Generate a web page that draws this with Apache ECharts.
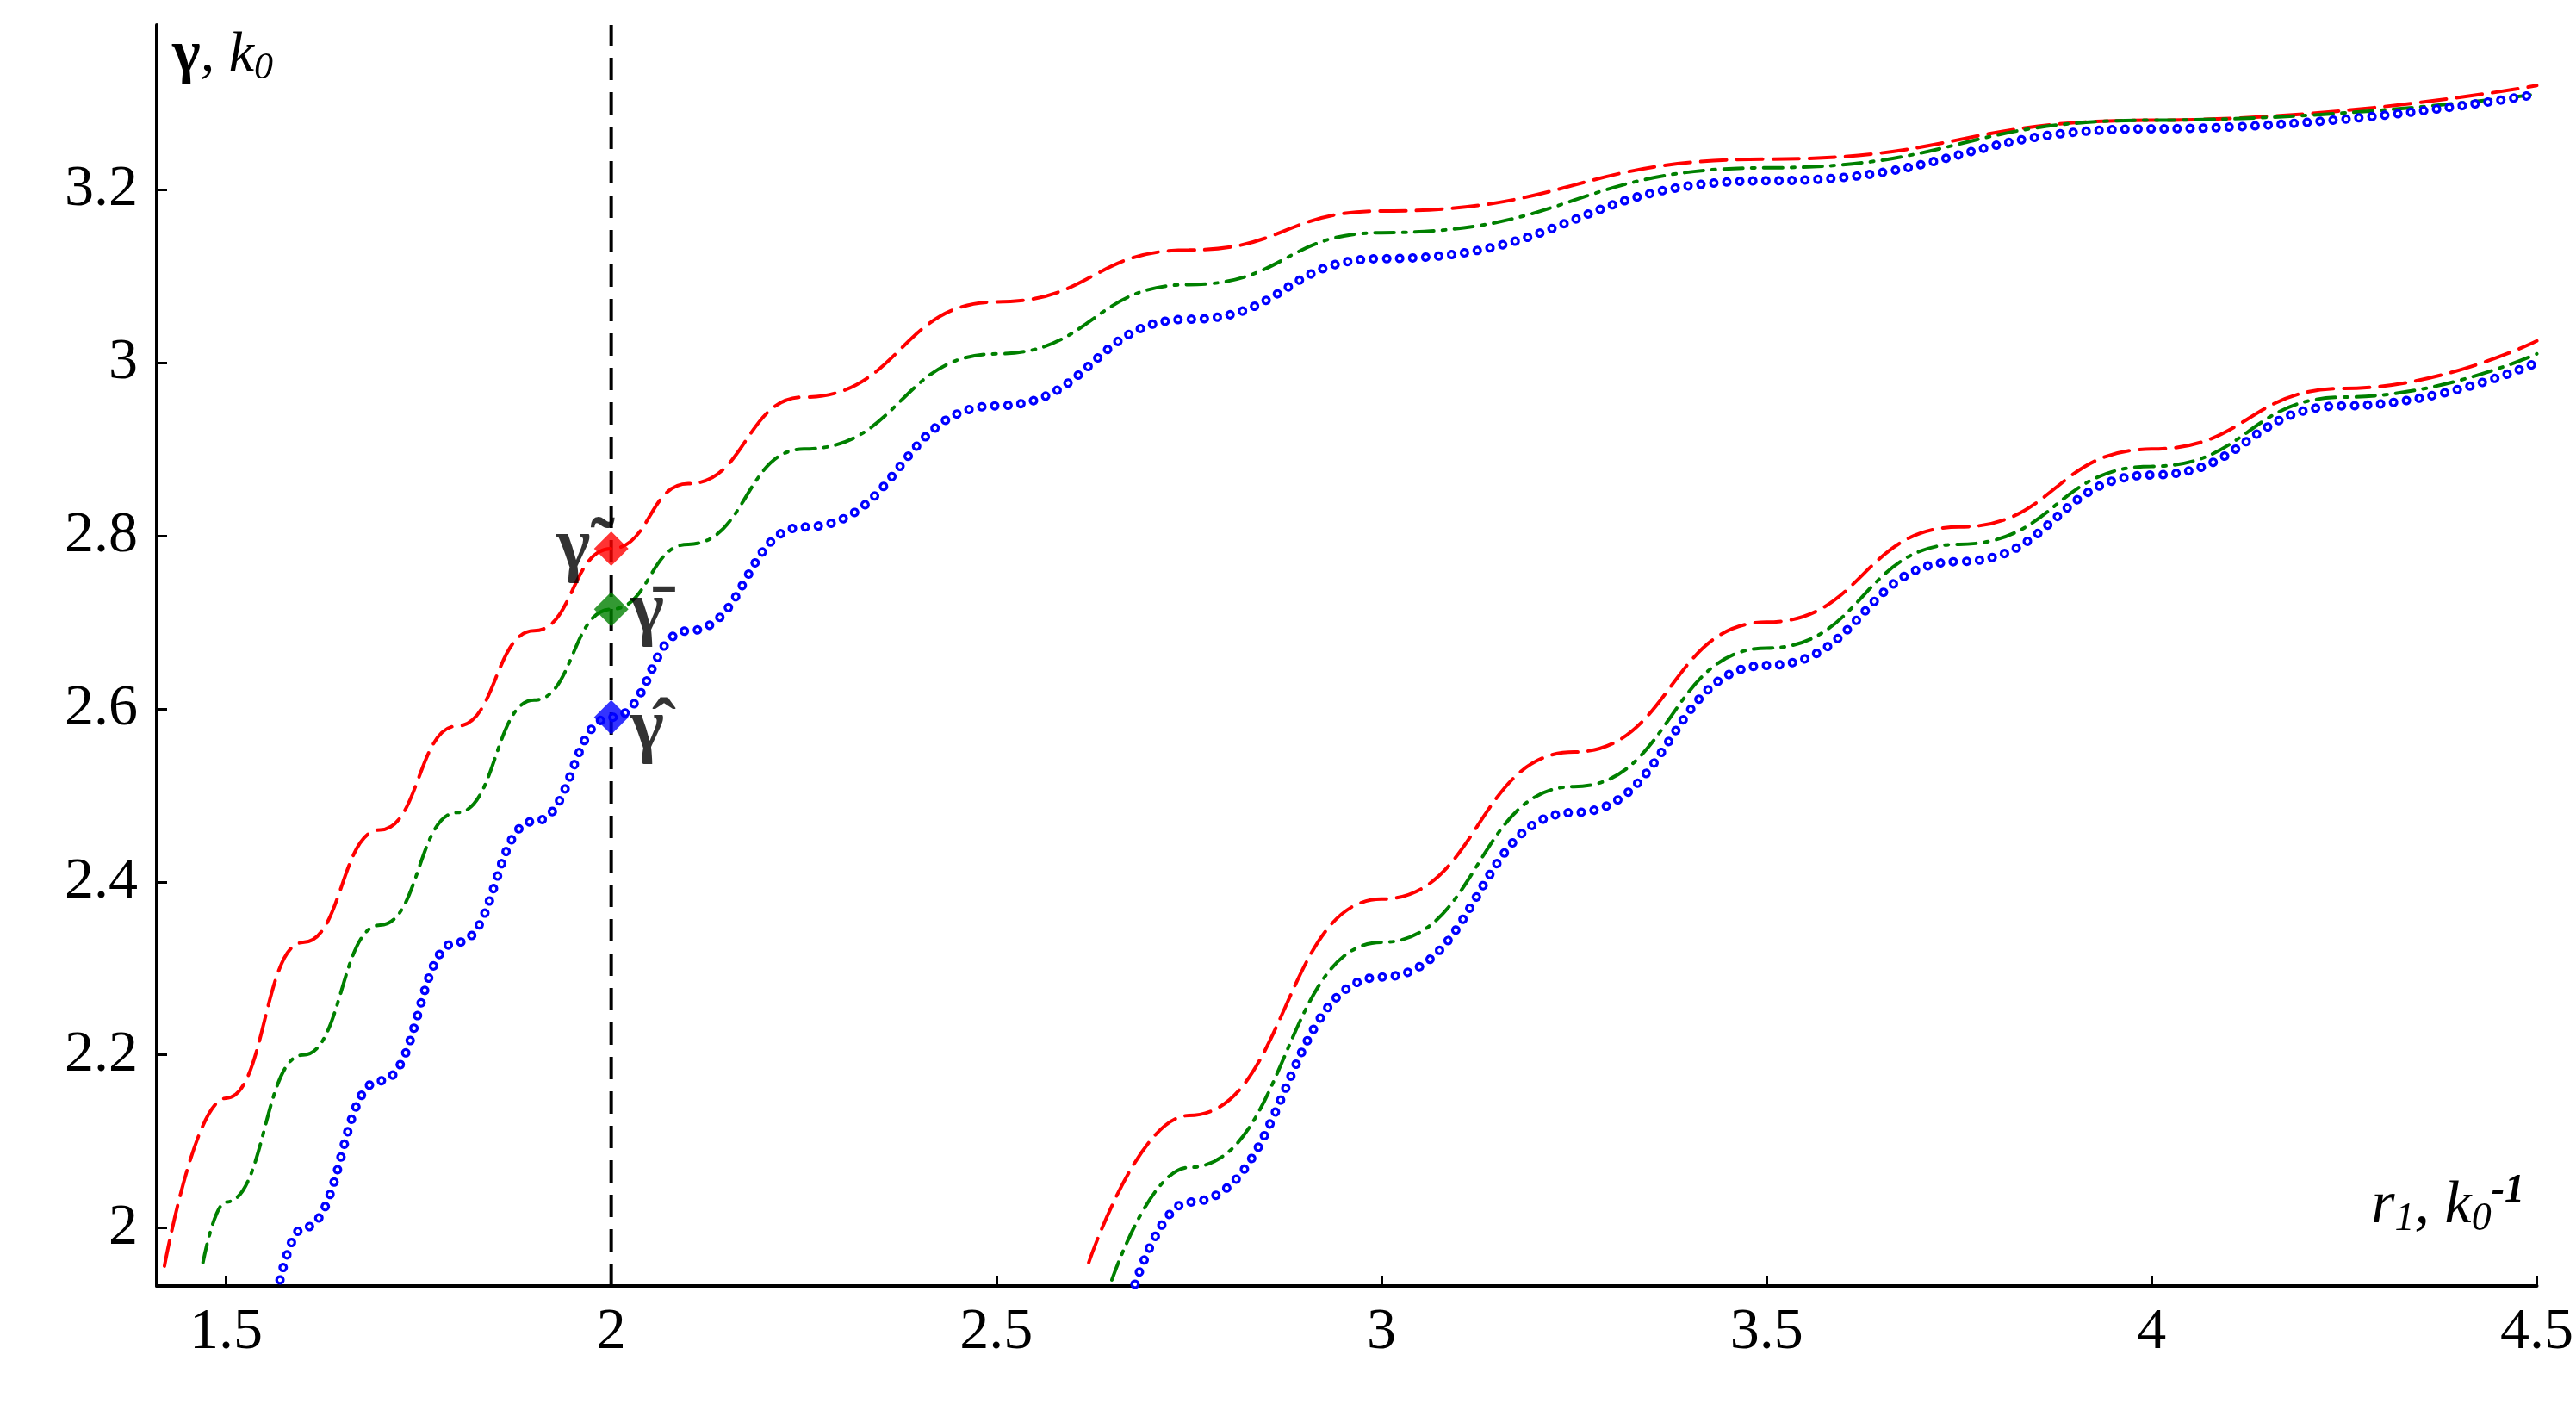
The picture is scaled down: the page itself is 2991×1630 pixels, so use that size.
<!DOCTYPE html>
<html><head><meta charset="utf-8">
<script src="https://cdn.jsdelivr.net/npm/echarts@6/dist/echarts.min.js"></script>
<style>html,body{margin:0;background:#fff}#c{width:2991px;height:1630px}</style>
</head><body><div id="c"></div>
<script>
const xTicks=[1.5,2,2.5,3,3.5,4,4.5];
const yTicks=[2,2.2,2.4,2.6,2.8,3,3.2];
const redUpper=[[1.42,1.956],[1.5,2.15],[1.6,2.33],[1.7,2.46],[1.8,2.58],[1.9,2.69],[2.0,2.785],[2.1,2.86],[2.25,2.96],[2.5,3.07],[2.75,3.13],[3.0,3.175],[3.5,3.235],[4.0,3.28],[4.5,3.32]];
const greenUpper=[[1.47,1.96],[1.5,2.03],[1.6,2.2],[1.7,2.35],[1.8,2.48],[1.9,2.61],[2.0,2.715],[2.1,2.79],[2.25,2.90],[2.5,3.01],[2.75,3.09],[3.0,3.15],[3.5,3.225],[4.0,3.28],[4.5,3.31]];
const blueUpper=[[1.57,1.94],[1.6,2.0],[1.7,2.17],[1.8,2.33],[1.9,2.47],[2.0,2.59],[2.1,2.69],[2.25,2.81],[2.5,2.95],[2.75,3.05],[3.0,3.12],[3.5,3.21],[4.0,3.27],[4.5,3.31]];
const redLower=[[2.62,1.96],[2.75,2.13],[3.0,2.38],[3.25,2.55],[3.5,2.70],[3.75,2.81],[4.0,2.90],[4.25,2.97],[4.5,3.025]];
const greenLower=[[2.65,1.94],[2.75,2.07],[3.0,2.33],[3.25,2.51],[3.5,2.67],[3.75,2.79],[4.0,2.88],[4.25,2.96],[4.5,3.01]];
const blueLower=[[2.68,1.935],[2.75,2.03],[3.0,2.29],[3.25,2.48],[3.5,2.65],[3.75,2.77],[4.0,2.87],[4.25,2.95],[4.5,3.0]];
const markers=[{v:[2,2.785],c:'#ff0000',t:'γ̃'},{v:[2,2.715],c:'#008000',t:'γ̄'},{v:[2,2.59],c:'#0000ff',t:'γ̂'}];
const F='"Liberation Serif", "Times New Roman", serif';
function ln(d,color,type,w,extra){return Object.assign({type:'line',data:d,smooth:0.5,smoothMonotone:'x',symbol:'none',silent:true,lineStyle:{color:color,width:w,type:type,cap:'round'},z:3},extra||{});}
const series=[
 ln(redUpper,'#ff0000',[30,12],4),ln(redLower,'#ff0000',[30,12],4),
 ln(greenUpper,'#008000',[22,10,4,10],4),ln(greenLower,'#008000',[22,10,4,10],4),
 ln(blueUpper,'#0000ff',[0.1,15],11),ln(blueUpper,'#ffffff',[0.1,15],4.5,{z:4}),
 ln(blueLower,'#0000ff',[0.1,15],11),ln(blueLower,'#ffffff',[0.1,15],4.5,{z:4}),
 {type:'line',data:[[2,1.933],[2,3.39]],symbol:'none',lineStyle:{color:'#000',width:4,type:[26,14]},z:2},
 {type:'scatter',symbol:'diamond',symbolSize:40,z:10,
  data:markers.map((m,i)=>({value:m.v,itemStyle:{color:m.c},label:{show:true,formatter:m.t,position:i==0?'left':'right',distance:i==0?4:2,offset:i==2?[0,14]:(i==1?[0,4]:[0,0]),fontFamily:F,fontSize:84,fontWeight:'bold',color:'#000'}}))}
];
const chart=echarts.init(document.getElementById('c'));
chart.setOption({
 animation:false,backgroundColor:'#fff',
 textStyle:{fontFamily:F},
 grid:{left:182,right:43,top:29,bottom:137},
 xAxis:{type:'value',min:1.41,max:4.5,splitLine:{show:false},
  axisLine:{lineStyle:{color:'#000',width:4}},
  axisTick:{customValues:xTicks,inside:true,length:12,lineStyle:{width:3,color:'#000'}},
  axisLabel:{customValues:xTicks,fontFamily:F,fontSize:68,color:'#000',margin:20}},
 yAxis:{type:'value',min:1.933,max:3.39,splitLine:{show:false},
  axisLine:{show:true,lineStyle:{color:'#000',width:4}},
  axisTick:{show:true,customValues:yTicks,inside:true,length:12,lineStyle:{width:3,color:'#000'}},
  axisLabel:{customValues:yTicks,fontFamily:F,fontSize:68,color:'#000',margin:22}},
 series:series,
 graphic:[
  {type:'text',left:200,top:30,style:{rich:{a:{fontFamily:F,fontSize:70,fontWeight:'bold'},b:{fontFamily:F,fontSize:66,fontStyle:'italic'},s:{fontFamily:F,fontSize:44,fontStyle:'italic',padding:[28,0,0,0]}},text:'{a|γ}{b|, k}{s|0}'}},
  {type:'text',right:60,top:1360,style:{rich:{b:{fontFamily:F,fontSize:70,fontStyle:'italic'},s:{fontFamily:F,fontSize:46,fontStyle:'italic',padding:[30,0,0,0]},p:{fontFamily:F,fontSize:46,fontStyle:'italic',fontWeight:'bold',padding:[0,0,36,0]}},text:'{b|r}{s|1}{b|, k}{s|0}{p|-1}'}}
 ]
});
</script></body></html>
